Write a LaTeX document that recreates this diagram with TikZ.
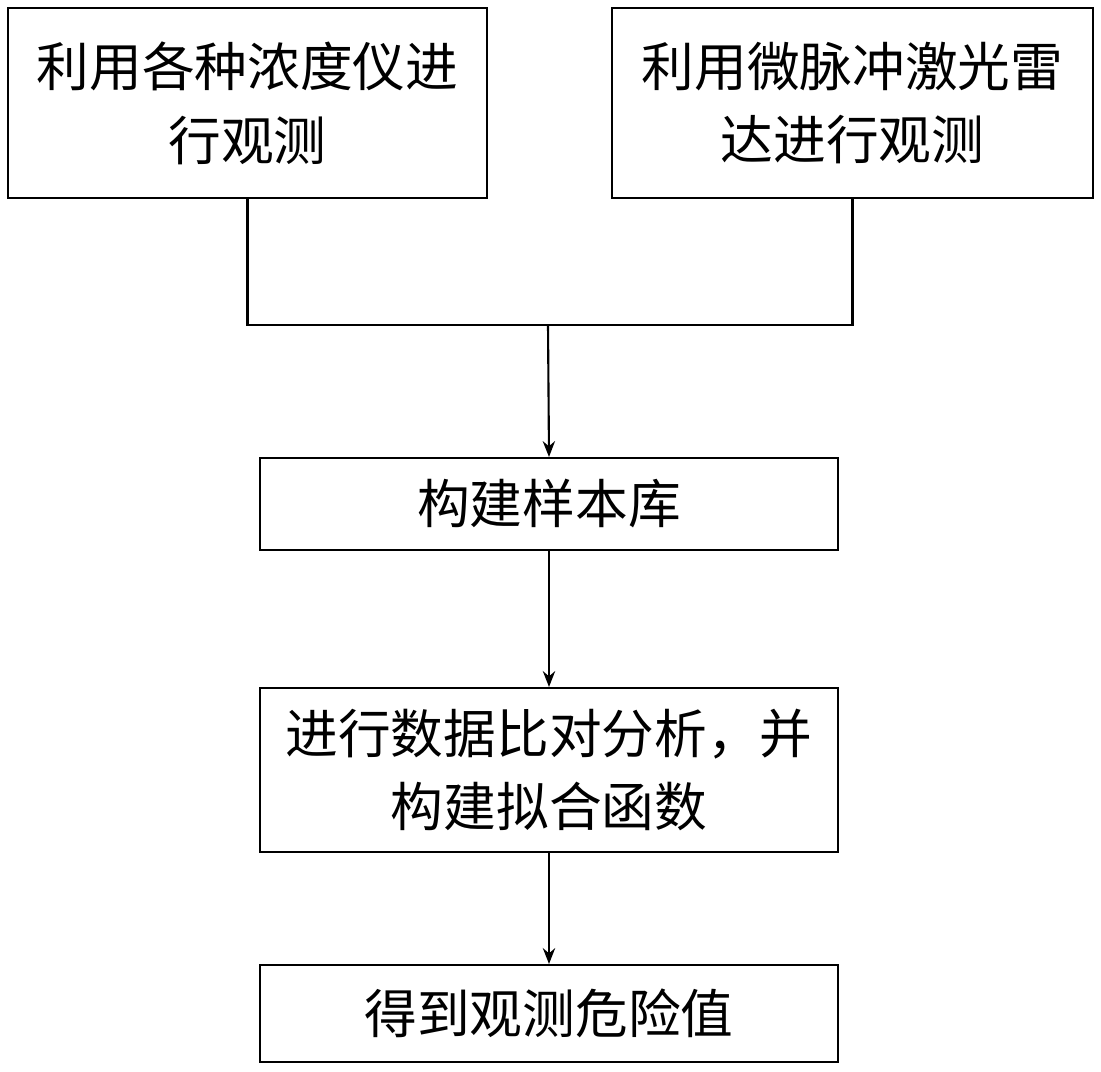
\documentclass[tikz,border=0pt]{standalone}
\usepackage{fontspec}
\setmainfont{Noto Sans CJK SC}
\usetikzlibrary{arrows.meta}
\begin{document}
\begin{tikzpicture}[x=0.02cm,y=-0.02cm,
  box/.style={draw,line width=1.2pt,inner sep=0pt,align=center,font=\fontsize{30}{42}\selectfont},
  flow/.style={line width=1.2pt,-{Stealth[length=9pt,width=7pt]}}]
  \useasboundingbox (0,0) rectangle (1101,1071);
  % upper boxes
  \node[box,minimum width=9.58cm,minimum height=3.8cm] (conc) at (247.5,103) {利用各种浓度仪进\\行观测};
  \node[box,minimum width=9.62cm,minimum height=3.8cm] (lidar) at (852.5,103) {利用微脉冲激光雷\\达进行观测};
  % chain
  \node[box,minimum width=11.56cm,minimum height=1.84cm] (lib) at (549,504) {构建样本库};
  \node[box,minimum width=11.56cm,minimum height=3.28cm] (fit) at (549,770) {进行数据比对分析，并\\构建拟合函数};
  \node[box,minimum width=11.56cm,minimum height=1.94cm] (risk) at (549,1013.5) {得到观测危险值};
  \coordinate (join) at (548,325);
  \draw[line width=1.2pt] (conc.south) -- (247.5,325) -- (852.5,325) -- (lidar.south);
  \draw[flow] (join) -- (lib.north);
  \draw[flow] (lib) -- (fit);
  \draw[flow] (fit) -- (risk);
\end{tikzpicture}
\end{document}
